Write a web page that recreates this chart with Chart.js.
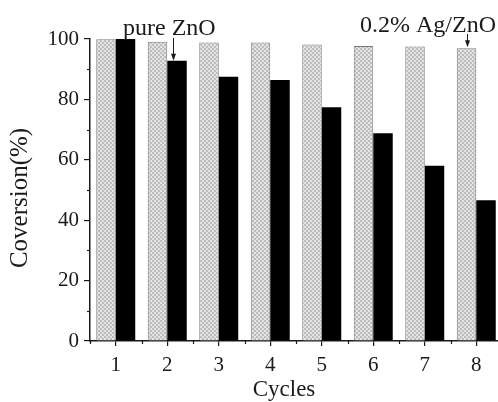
<!DOCTYPE html>
<html>
<head>
<meta charset="utf-8">
<script src="https://cdn.jsdelivr.net/npm/chart.js@4/dist/chart.umd.min.js"></script>
<style>
  html, body { margin: 0; padding: 0; overflow: hidden; background: #fff; }
  #wrap { position: relative; width: 502px; height: 402px; }
</style>
</head>
<body>
<div id="wrap"><canvas id="chart"></canvas></div>
<script>
// Photocatalytic conversion over repeated cycles
const cycles = ['1', '2', '3', '4', '5', '6', '7', '8'];
const agZnO = [99.9, 99.1, 98.8, 98.8, 98.2, 97.7, 97.5, 96.9];   // 0.2% Ag/ZnO
const pureZnO = [100, 92.8, 87.5, 86.4, 77.4, 68.8, 58.0, 46.6];  // pure ZnO
const yTicks = [0, 20, 40, 60, 80, 100];
const yMinorTicks = [10, 30, 50, 70, 90];

const SERIF = '"Liberation Serif", "Times New Roman", serif';
const INK = '#1a1a1a';

// fine checkered fill for the Ag/ZnO bars
function checkerPattern() {
  const t = document.createElement('canvas');
  t.width = 4; t.height = 4;
  const g = t.getContext('2d');
  g.fillStyle = '#e4e4e4';
  g.fillRect(0, 0, 4, 4);
  g.fillStyle = '#bcbcbc';
  g.fillRect(0, 0, 2, 2);
  g.fillRect(2, 2, 2, 2);
  return g.createPattern(t, 'repeat');
}

function arrowDown(ctx, x, y0, y1) {
  ctx.beginPath();
  ctx.moveTo(x, y0);
  ctx.lineTo(x, y1 - 5);
  ctx.stroke();
  ctx.beginPath();
  ctx.moveTo(x, y1);
  ctx.lineTo(x - 2.5, y1 - 7);
  ctx.lineTo(x + 2.5, y1 - 7);
  ctx.closePath();
  ctx.fill();
}

const decorations = {
  id: 'decorations',
  afterDraw(chart) {
    const ctx = chart.ctx;
    const xs = chart.scales.x, ys = chart.scales.y;
    const area = chart.chartArea;
    ctx.save();
    ctx.strokeStyle = INK;
    ctx.fillStyle = INK;
    ctx.lineWidth = 1.2;

    // minor ticks on the value axis
    yMinorTicks.forEach(v => {
      const y = Math.round(ys.getPixelForValue(v)) + 0.5;
      ctx.beginPath();
      ctx.moveTo(area.left - 3, y);
      ctx.lineTo(area.left, y);
      ctx.stroke();
    });
    // minor ticks between cycles
    for (let i = 0; i <= cycles.length; i++) {
      const x = Math.round(xs.getPixelForValue(i - 0.5)) + 0.5;
      ctx.beginPath();
      ctx.moveTo(x, area.bottom);
      ctx.lineTo(x, area.bottom + 3);
      ctx.stroke();
    }

    // axis titles
    ctx.font = '25px ' + SERIF;
    ctx.textAlign = 'center';
    ctx.textBaseline = 'middle';
    ctx.save();
    ctx.translate(20, 198);
    ctx.rotate(-Math.PI / 2);
    ctx.fillText('Coversion(%)', 0, 0);
    ctx.restore();

    ctx.font = '23px ' + SERIF;
    ctx.textBaseline = 'alphabetic';
    ctx.fillText('Cycles', 284, 396);

    // series annotations with pointers
    ctx.font = '24px ' + SERIF;
    ctx.textAlign = 'left';
    ctx.fillText('pure ZnO', 123, 35);
    ctx.fillText('0.2% Ag/ZnO', 360, 32);

    ctx.lineWidth = 1;
    const pureBar = chart.getDatasetMeta(1).data[1];
    arrowDown(ctx, Math.round(pureBar.x - 4) + 0.5, 38, pureBar.y);
    const agBar = chart.getDatasetMeta(0).data[7];
    arrowDown(ctx, Math.round(agBar.x) + 0.5, 34, agBar.y - 1);
    ctx.restore();
  }
};

new Chart(document.getElementById('chart'), {
  type: 'bar',
  data: {
    labels: cycles,
    datasets: [
      {
        label: '0.2% Ag/ZnO',
        data: agZnO,
        backgroundColor: checkerPattern(),
        borderColor: '#7c7c7c',
        borderWidth: 1,
        borderSkipped: 'bottom'
      },
      {
        label: 'pure ZnO',
        data: pureZnO,
        backgroundColor: '#000',
        borderWidth: 0
      }
    ]
  },
  options: {
    responsive: true,
    maintainAspectRatio: false,
    animation: false,
    events: [],
    layout: { padding: { top: 39, left: 0, right: 0, bottom: 0 } },
    datasets: { bar: { categoryPercentage: 0.757, barPercentage: 1.0 } },
    plugins: { legend: { display: false }, tooltip: { enabled: false } },
    scales: {
      x: {
        offset: true,
        grid: { offset: false, drawOnChartArea: false, tickLength: 5, color: INK, lineWidth: 1.2 },
        border: { display: true, color: INK, width: 1.5 },
        ticks: { color: INK, padding: 7, font: { family: SERIF, size: 21 } },
        afterFit(scale) { scale.height = 61; }
      },
      y: {
        min: 0,
        max: 100,
        afterBuildTicks(scale) { scale.ticks = yTicks.map(v => ({ value: v })); },
        grid: { drawOnChartArea: false, tickLength: 6, color: INK, lineWidth: 1.2 },
        border: { display: true, color: INK, width: 1.5 },
        ticks: { color: INK, padding: 5, font: { family: SERIF, size: 21 } },
        afterFit(scale) { scale.width = 90; }
      }
    }
  },
  plugins: [decorations]
});
</script>
</body>
</html>
